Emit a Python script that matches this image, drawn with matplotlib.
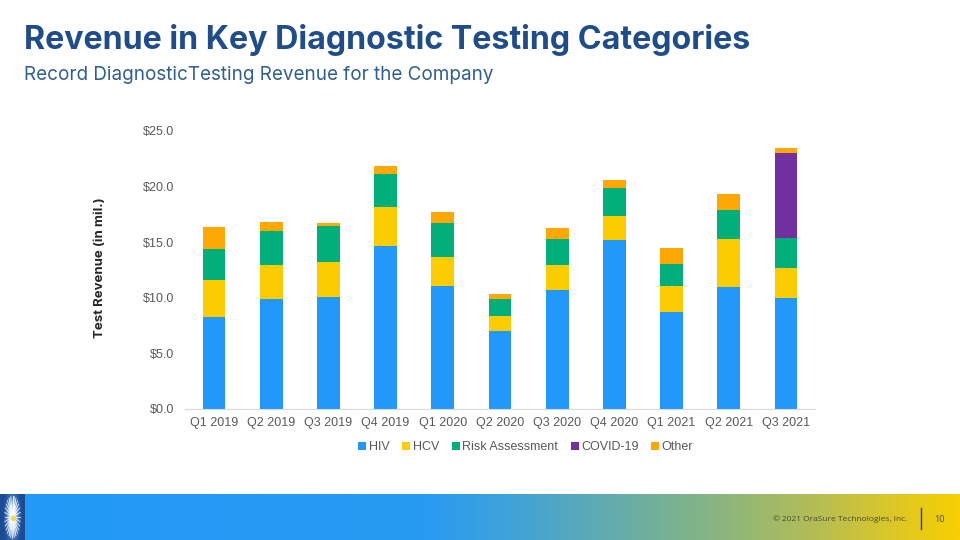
import numpy as np
import matplotlib
matplotlib.use("Agg")
import matplotlib.pyplot as plt
from matplotlib.colors import LinearSegmentedColormap

quarters = ["Q1 2019", "Q2 2019", "Q3 2019", "Q4 2019", "Q1 2020", "Q2 2020",
            "Q3 2020", "Q4 2020", "Q1 2021", "Q2 2021", "Q3 2021"]
hiv = [8.3, 9.85, 10.1, 14.7, 11.1, 7.0, 10.7, 15.2, 8.7, 11.0, 10.0]
hcv = [3.3, 3.1, 3.1, 3.5, 2.6, 1.4, 2.25, 2.2, 2.4, 4.3, 2.7]
risk = [2.8, 3.1, 3.3, 2.9, 3.0, 1.5, 2.3, 2.5, 1.9, 2.6, 2.7]
covid = [0, 0, 0, 0, 0, 0, 0, 0, 0, 0, 7.65]
other = [2.0, 0.8, 0.2, 0.75, 1.05, 0.4, 1.0, 0.7, 1.45, 1.4, 0.4]
series_names = ["HIV", "HCV", "Risk Assessment", "COVID-19", "Other"]
yticks = [0, 5, 10, 15, 20, 25]

colors = ["#2299FA", "#FBCD00", "#00AF7A", "#7030A0", "#FFA805"]

W, H = 960, 540
fig = plt.figure(figsize=(9.6, 5.4), dpi=100)
fig.patch.set_facecolor("white")

# Title & subtitle
fig.text(24 / W, 1 - 40 / H, "Revenue in Key Diagnostic Testing Categories",
         fontsize=23.2, fontweight="bold", color="#1F4C8A", family="Inter",
         va="center", ha="left")
fig.text(24 / W, 1 - 75 / H, "Record DiagnosticTesting Revenue for the Company",
         fontsize=13.6, fontweight="normal", color="#2F5F90", family="Inter",
         va="center", ha="left")

# Chart axes
ax = fig.add_axes([185.4 / W, 1 - 409 / H, (814.6 - 185.4) / W, (409 - 131) / H])
x = np.arange(len(quarters))
bottom = np.zeros(len(quarters))
for name, vals, c in zip(series_names, [hiv, hcv, risk, covid, other], colors):
    v = np.array(vals, dtype=float)
    ax.bar(x, v, width=0.4, bottom=bottom, color=c, label=name, linewidth=0)
    bottom += v

ax.set_xlim(-0.5, 10.5)
ax.set_ylim(0, 25)
ax.set_yticks(yticks)
ax.set_yticklabels([f"${t:.1f}" for t in yticks])
ax.set_xticks(x)
ax.set_xticklabels(quarters)
for s in ["top", "right", "left"]:
    ax.spines[s].set_visible(False)
ax.spines["bottom"].set_color("#D9D9D9")
ax.tick_params(axis="both", length=0, labelsize=9, labelcolor="#595959")
ax.tick_params(axis="y", pad=8)
ax.tick_params(axis="x", pad=6)
for lab in ax.get_xticklabels() + ax.get_yticklabels():
    lab.set_family("Liberation Sans")

fig.text(100 / W, 1 - 268 / H, "Test Revenue (in mil.)", rotation=90,
         fontsize=9.5, fontweight="bold", color="#262626", family="Inter",
         va="center", ha="center")

leg = ax.legend(loc="upper center", bbox_to_anchor=(0.541, -0.075), ncol=5,
                frameon=False, handlelength=0.65, handleheight=0.65,
                handletextpad=0.2, columnspacing=1.0,
                prop={"family": "Liberation Sans", "size": 9})
for t in leg.get_texts():
    t.set_color("#595959")

# Bottom banner gradient
bax = fig.add_axes([0, 0, 1, 46 / H])
bax.set_axis_off()
cmap = LinearSegmentedColormap.from_list(
    "band", [(0, "#2299F8"), (0.45, "#2A9BF2"), (0.55, "#45A4D2"),
             (0.65, "#68ADA8"), (0.75, "#8AB580"), (0.85, "#B4BD55"),
             (0.93, "#DCC728"), (1.0, "#F7CF02")])
grad = np.linspace(0, 1, 512).reshape(1, -1)
bax.imshow(grad, aspect="auto", cmap=cmap, extent=[0, 1, 0, 1])
bax.set_xlim(0, 1)
bax.set_ylim(0, 1)

# Logo
lax = fig.add_axes([0, 0, 25 / W, 46 / H])
lax.set_axis_off()
yy, xx = np.mgrid[-1:1:100j, -1:1:100j]
r = np.sqrt((xx * 1.84) ** 2 + yy ** 2)
lcmap = LinearSegmentedColormap.from_list("logo", ["#FFFFFF", "#BFD6F0", "#3F73B8", "#1C4C94"])
lax.imshow(np.clip(r / 1.4, 0, 1), cmap=lcmap, extent=[-1, 1, -1, 1], aspect="auto")
for ang in np.linspace(0, 2 * np.pi, 28, endpoint=False):
    lax.plot([0, 0.9 * np.cos(ang) / 1.84 * 1.3], [0, 0.9 * np.sin(ang)],
             color="white", lw=0.6, alpha=0.9)
lax.plot(0, -0.05, "o", color="#F2D65A", ms=3)
lax.set_xlim(-1, 1)
lax.set_ylim(-1, 1)

fig.text(840 / W, 1 - 519 / H, "© 2021 OraSure Technologies, Inc.", fontsize=6,
         color="#4A4A3A", family="Open Sans", ha="center", va="center")
fig.add_artist(plt.Line2D([921 / W, 921 / W], [1 - 508 / H, 1 - 529 / H],
                          color="#3A3A2A", lw=1))
fig.text(939 / W, 1 - 519 / H, "10", fontsize=6.5, color="#4A4A3A",
         family="Open Sans", ha="center", va="center")

fig.savefig("out.png", dpi=100)
